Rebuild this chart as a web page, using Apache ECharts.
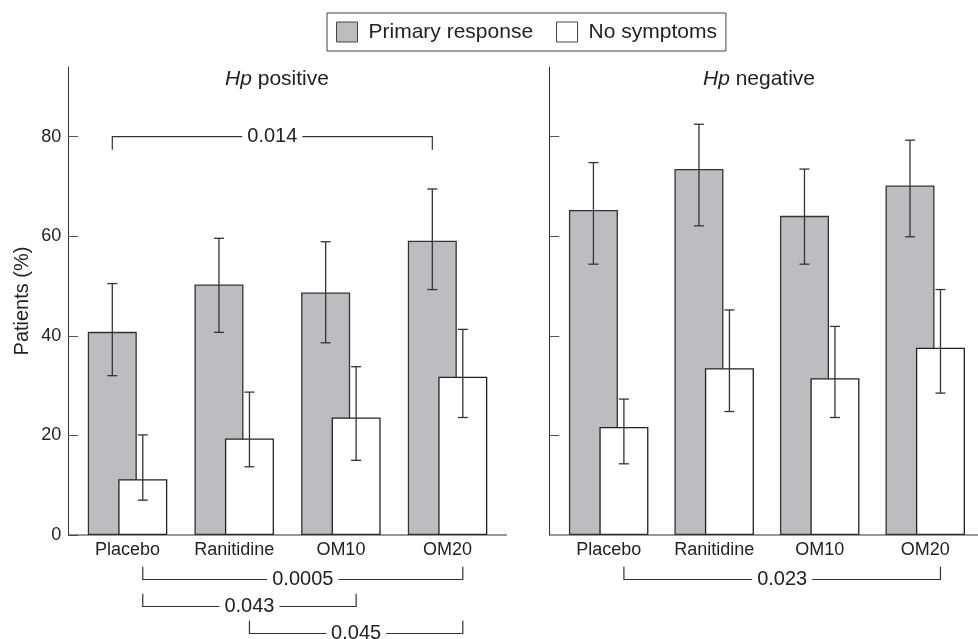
<!DOCTYPE html>
<html>
<head>
<meta charset="utf-8">
<script src="https://cdn.jsdelivr.net/npm/echarts@6/dist/echarts.min.js"></script>
<style>
html,body{margin:0;padding:0;background:#fff;}
#chart{width:978px;height:639px;}
</style>
</head>
<body>
<div id="chart"></div>
<script>
// ---------- data ----------
const categories = ['Placebo', 'Ranitidine', 'OM10', 'OM20'];
const seriesNames = ['Primary response', 'No symptoms'];
const panelTitles = ['positive', 'negative'];
const yTicks = [0, 20, 40, 60, 80];

const posPrimary = [40.8, 50.3, 48.7, 59.1];
const posPrimaryErr = [[32.0, 50.5], [40.7, 59.6], [38.6, 58.9], [49.3, 69.5]];
const posNoSym = [11.2, 19.4, 23.6, 31.8];
const posNoSymErr = [[7.0, 20.1], [13.7, 28.7], [15.0, 33.8], [23.6, 41.3]];

const negPrimary = [65.3, 73.5, 64.1, 70.2];
const negPrimaryErr = [[54.4, 74.8], [62.1, 82.5], [54.4, 73.5], [59.9, 79.3]];
const negNoSym = [21.7, 33.5, 31.5, 37.6];
const negNoSymErr = [[14.3, 27.3], [24.8, 45.2], [23.6, 41.9], [28.5, 49.3]];

// significance brackets: [panel, label, fromCategory, fromSeries, toCategory, toSeries, level]
// level 'top' = above bars at topBracketValue; numbers = rows below the axis
const topBracketValue = 80;
const brackets = [
  [0, '0.014', 'Placebo', 0, 'OM20', 0, 'top'],
  [0, '0.0005', 'Placebo', 1, 'OM20', 1, 0],
  [0, '0.043', 'Placebo', 1, 'OM10', 1, 1],
  [0, '0.045', 'Ranitidine', 1, 'OM20', 1, 2],
  [1, '0.023', 'Placebo', 1, 'OM20', 1, 0]
];

// ---------- layout / style ----------
const FONT = "'Liberation Sans', Arial, Helvetica, sans-serif";
const TXT = '#222';
const AX = '#333';
const GRAY = '#bcbdc1';
const BAR_W = 49;
const BAR_GAP = -0.378;
const HALF_SHIFT = BAR_W * (1 + BAR_GAP) / 2;
const GRID_TOP = 67, GRID_H = 468, BAND_W = 426.7;
const gridLefts = [74.2, 555.9];
const yOffsets = [6, 6.6];
const Y_MAX = 94;

const chart = echarts.init(document.getElementById('chart'), null, {renderer: 'canvas'});

function errRender(shift) {
  return function (params, api) {
    const c = api.value(0);
    const lo = api.coord([c, api.value(1)]);
    const hi = api.coord([c, api.value(2)]);
    const x = lo[0] + shift;
    const st = {stroke: '#333', lineWidth: 1.3};
    return {
      type: 'group',
      children: [
        {type: 'line', shape: {x1: x, y1: lo[1], x2: x, y2: hi[1]}, style: st},
        {type: 'line', shape: {x1: x - 5, y1: lo[1], x2: x + 5, y2: lo[1]}, style: st},
        {type: 'line', shape: {x1: x - 5, y1: hi[1], x2: x + 5, y2: hi[1]}, style: st}
      ]
    };
  };
}
function errData(arr) { return arr.map((d, i) => [i, d[0], d[1]]); }

const panels = [
  {primary: posPrimary, primaryErr: posPrimaryErr, nosym: posNoSym, nosymErr: posNoSymErr},
  {primary: negPrimary, primaryErr: negPrimaryErr, nosym: negNoSym, nosymErr: negNoSymErr}
];

const grids = [], xAxes = [], yAxes = [], series = [];
panels.forEach((p, k) => {
  grids.push({left: gridLefts[k], top: GRID_TOP, width: BAND_W, height: GRID_H, containLabel: false});
  xAxes.push({
    type: 'category', gridIndex: k, data: categories,
    axisLine: {show: false}, axisTick: {show: false},
    axisLabel: {fontSize: 18, color: TXT, fontFamily: FONT, margin: 6}
  });
  yAxes.push({
    type: 'value', gridIndex: k, min: 0, max: Y_MAX, interval: 20, offset: yOffsets[k],
    name: k === 0 ? 'Patients (%)' : '', nameLocation: 'middle', nameGap: 36,
    nameTextStyle: {fontSize: 20, color: TXT, fontFamily: FONT},
    splitLine: {show: false},
    axisLine: {show: true, lineStyle: {color: AX, width: 1}},
    axisTick: {show: true, inside: true, length: 10, lineStyle: {color: '#555', width: 1},
      customValues: k === 0 ? yTicks : yTicks.slice(1)},
    axisLabel: {show: k === 0, fontSize: 18, color: TXT, fontFamily: FONT, margin: 7, customValues: yTicks}
  });
  series.push({
    name: seriesNames[0], type: 'bar', xAxisIndex: k, yAxisIndex: k, data: p.primary,
    barWidth: BAR_W, barGap: (BAR_GAP * 100) + '%',
    itemStyle: {color: GRAY, borderColor: '#333', borderWidth: 1.3}, z: 2
  });
  series.push({
    name: seriesNames[1], type: 'bar', xAxisIndex: k, yAxisIndex: k, data: p.nosym,
    barWidth: BAR_W, barGap: (BAR_GAP * 100) + '%',
    itemStyle: {color: '#fff', borderColor: '#222', borderWidth: 1.3}, z: 2
  });
  series.push({
    type: 'custom', xAxisIndex: k, yAxisIndex: k, renderItem: errRender(-HALF_SHIFT),
    data: errData(p.primaryErr), z: 5, silent: true
  });
  series.push({
    type: 'custom', xAxisIndex: k, yAxisIndex: k, renderItem: errRender(HALF_SHIFT),
    data: errData(p.nosymErr), z: 5, silent: true
  });
});

const option = {
  animation: false,
  backgroundColor: '#fff',
  textStyle: {fontFamily: FONT},
  title: panelTitles.map((t, k) => ({
    text: '{i|Hp} ' + t,
    left: k === 0 ? 272 : 754, top: 64, textAlign: 'center',
    textStyle: {fontSize: 21, fontWeight: 'normal', color: TXT, fontFamily: FONT,
      rich: {i: {fontStyle: 'italic', fontSize: 21, color: TXT, fontFamily: FONT}}}
  })),
  legend: {
    data: seriesNames, left: 327, top: 13, orient: 'horizontal',
    padding: [8, 9, 8, 9], itemWidth: 21, itemHeight: 20, itemGap: 23,
    borderColor: '#444', borderWidth: 1, icon: 'rect',
    itemStyle: {borderColor: '#444', borderWidth: 1},
    textStyle: {fontSize: 21, color: TXT, fontFamily: FONT, padding: [0, 0, 0, 6], lineHeight: 22}
  },
  grid: grids, xAxis: xAxes, yAxis: yAxes, series: series
};
chart.setOption(option);

// ---------- axis baselines and bracket annotations ----------
const graphics = [];
const lineStyle = {stroke: '#333', lineWidth: 1.2};
[0, 1].forEach(k => {
  const y0 = chart.convertToPixel({yAxisIndex: k}, 0);
  const xL = gridLefts[k] - yOffsets[k];
  const xR = gridLefts[k] + BAND_W + 6;
  graphics.push({type: 'line', shape: {x1: xL, y1: y0, x2: xR, y2: y0}, style: {stroke: AX, lineWidth: 1.2}, z: 10});
});
brackets.forEach(b => {
  const [k, label, c1, s1, c2, s2, level] = b;
  const x1 = chart.convertToPixel({xAxisIndex: k}, c1) + (s1 === 0 ? -HALF_SHIFT : HALF_SHIFT);
  const x2 = chart.convertToPixel({xAxisIndex: k}, c2) + (s2 === 0 ? -HALF_SHIFT : HALF_SHIFT);
  let y, yEnd;
  if (level === 'top') {
    y = chart.convertToPixel({yAxisIndex: k}, topBracketValue);
    yEnd = y + 13;
  } else {
    const y0 = chart.convertToPixel({yAxisIndex: k}, 0);
    y = y0 + 44.5 + level * 27;
    yEnd = y - 12.7;
  }
  graphics.push({type: 'polyline', shape: {points: [[x1, yEnd], [x1, y], [x2, y], [x2, yEnd]]}, style: Object.assign({fill: null}, lineStyle), z: 10});
  graphics.push({
    type: 'text', x: (x1 + x2) / 2, y: y, z: 11,
    style: {text: label, fontSize: 20, fontFamily: FONT, fill: TXT, align: 'center', verticalAlign: 'middle',
      backgroundColor: '#fff', padding: [0, 5]}
  });
});
chart.setOption({graphic: graphics});
</script>
</body>
</html>
